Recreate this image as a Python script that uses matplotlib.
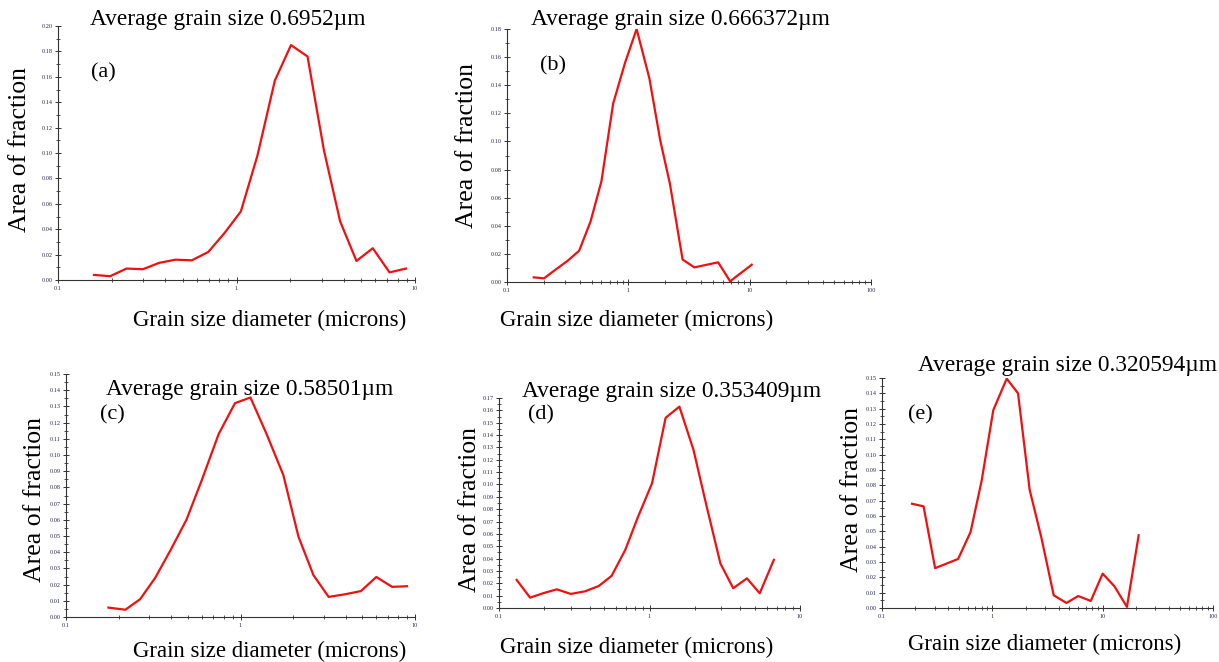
import numpy as np
import matplotlib.pyplot as plt
from matplotlib.ticker import MultipleLocator, LogLocator, NullFormatter

plt.rcParams['font.family'] = ['Liberation Serif', 'DejaVu Serif']

# --- data ---
a_x = [0.159, 0.196, 0.242, 0.299, 0.369, 0.455, 0.562, 0.694, 0.857, 1.058,
       1.31, 1.64, 2.02, 2.50, 3.09, 3.81, 4.70, 5.80, 7.2, 8.9]
a_y = [0.004, 0.003, 0.009, 0.0085, 0.0135, 0.016, 0.0155, 0.022, 0.037, 0.054,
       0.098, 0.157, 0.185, 0.176, 0.102, 0.046, 0.015, 0.025, 0.006, 0.009]

b_x = [0.166, 0.202, 0.253, 0.315, 0.393, 0.488, 0.60, 0.75, 0.94, 1.17,
       1.49, 1.83, 2.20, 2.80, 3.5, 5.5, 6.9, 10.4]
b_y = [0.0033, 0.0026, 0.009, 0.015, 0.0222, 0.043, 0.0716, 0.127, 0.156, 0.180,
       0.145, 0.101, 0.070, 0.016, 0.0104, 0.014, 0.0005, 0.0123]

c_x = [0.175, 0.219, 0.266, 0.325, 0.396, 0.49, 0.60, 0.75, 0.93, 1.14,
       1.41, 1.76, 2.15, 2.62, 3.2, 3.96, 4.9, 6.0, 7.4, 9.0]
c_y = [0.0058, 0.0045, 0.011, 0.0243, 0.041, 0.060, 0.0845, 0.113, 0.132, 0.1355,
       0.113, 0.0876, 0.0495, 0.0258, 0.0124, 0.014, 0.016, 0.0247, 0.0186, 0.019]

d_x = [0.131, 0.161, 0.197, 0.242, 0.30, 0.373, 0.46, 0.56, 0.69, 0.84,
       1.04, 1.28, 1.58, 1.96, 2.4, 2.96, 3.6, 4.44, 5.4, 6.7]
d_y = [0.0227, 0.0084, 0.012, 0.0151, 0.0114, 0.0135, 0.0178, 0.026, 0.047, 0.074,
       0.101, 0.154, 0.163, 0.128, 0.082, 0.036, 0.016, 0.024, 0.0119, 0.039]

e_x = [0.187, 0.238, 0.303, 0.386, 0.49, 0.635, 0.80, 1.02, 1.35, 1.71,
       2.18, 2.78, 3.6, 4.7, 6.0, 7.8, 10.0, 12.8, 16.6, 21.2]
e_y = [0.068, 0.0663, 0.026, 0.029, 0.032, 0.0496, 0.083, 0.129, 0.1496, 0.14,
       0.077, 0.046, 0.0083, 0.0033, 0.0078, 0.0046, 0.0224, 0.0141, 0.0007, 0.0474]

titles = ["Average grain size 0.6952\u00b5m", "Average grain size 0.666372\u00b5m",
          "Average grain size 0.58501\u00b5m", "Average grain size 0.353409\u00b5m",
          "Average grain size 0.320594\u00b5m"]
tags = ["(a)", "(b)", "(c)", "(d)", "(e)"]

W, H = 1219, 662
fig = plt.figure(figsize=(W / 100, H / 100), dpi=100)

def px_axes(l, r, t, b):
    return fig.add_axes([l / W, 1 - b / H, (r - l) / W, (b - t) / H])

def ftext(x, y, s, **kw):
    fig.text(x / W, 1 - y / H, s, **kw)

# (pixel box, xmax, ymax, ymajor, title pos, tag pos, ylabel pos, xlabel pos)
panels = [
    (a_x, a_y, (58, 415, 26, 280), 10, 0.20, 0.02, (228, 20), (103, 73), (20, 150), (270, 320)),
    (b_x, b_y, (507, 871, 29, 282), 100, 0.18, 0.02, (680, 20), (553, 66), (467, 145), (637, 320)),
    (c_x, c_y, (66, 415, 374, 617), 10, 0.15, 0.01, (250, 389), (112, 415), (35, 500), (270, 651)),
    (d_x, d_y, (499, 800, 398, 608), 10, 0.17, 0.01, (672, 391), (541, 415), (470, 510), (637, 647)),
    (e_x, e_y, (882, 1213, 378, 608), 100, 0.15, 0.01, (1068, 366), (920, 415), (852, 490), (1045, 644)),
]

for i, (xs, ys, box, xmax, ymax, ymaj, tpos, gpos, ylpos, xlpos) in enumerate(panels):
    ax = px_axes(*box)
    ax.plot(xs, ys, color='#ee1111', lw=1.6)
    ax.set_xscale('log')
    ax.set_xlim(0.1, xmax)
    ax.set_ylim(0, ymax)
    ax.yaxis.set_major_locator(MultipleLocator(ymaj))
    ax.yaxis.set_minor_locator(MultipleLocator(ymaj / 2))
    ax.yaxis.set_major_formatter(plt.FuncFormatter(lambda v, p: f"{v:.2f}"))
    ax.xaxis.set_major_locator(LogLocator(base=10))
    ax.xaxis.set_minor_locator(LogLocator(base=10, subs=np.arange(2, 10)))
    ax.xaxis.set_minor_formatter(NullFormatter())
    ax.xaxis.set_major_formatter(plt.FuncFormatter(lambda v, p: f"{v:g}"))
    for s in ['top', 'right']:
        ax.spines[s].set_visible(False)
    for s in ['left', 'bottom']:
        ax.spines[s].set_color('#333333')
        ax.spines[s].set_linewidth(0.8)
    ax.tick_params(which='major', direction='inout', length=4, width=0.7,
                   labelsize=4.5, colors='#333333', labelcolor='#2a2a50', pad=2)
    ax.tick_params(which='minor', direction='inout', length=3, width=0.6, colors='#333333')
    ax.patch.set_alpha(0)

    ftext(*tpos, titles[i], fontsize=16.8, ha='center', va='center')
    ftext(*gpos, tags[i], fontsize=16, ha='center', va='center')
    ftext(*ylpos, "Area of fraction", fontsize=18.5, ha='center', va='center', rotation=90)
    ftext(*xlpos, "Grain size diameter (microns)", fontsize=16.5, ha='center', va='center')

fig.savefig("out.png", dpi=100)
